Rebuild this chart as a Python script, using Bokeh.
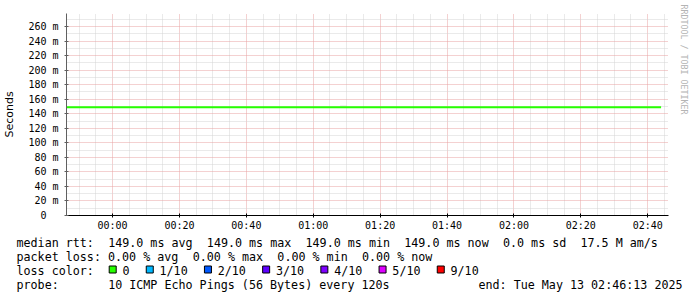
import re
import pandas as pd
from bokeh.plotting import figure
from bokeh.layouts import column
from bokeh.models import Range1d, FixedTicker, ColumnDataSource
from bokeh.embed import file_html
from bokeh.resources import INLINE
from bokeh.core.properties import value

# ---------------- data ----------------
graph_start = "2025-05-12 23:46:13"
graph_end = "2025-05-13 02:46:13"

x_tick_labels = ["00:00", "00:20", "00:40", "01:00", "01:20", "01:40", "02:00", "02:20", "02:40"]
x_tick_day = "2025-05-13"

y_tick_ms = [0, 20, 40, 60, 80, 100, 120, 140, 160, 180, 200, 220, 240, 260]
y_tick_labels = ["0\u00a0\u00a0", "20 m", "40 m", "60 m", "80 m", "100 m", "120 m", "140 m",
                 "160 m", "180 m", "200 m", "220 m", "240 m", "260 m"]
y_minor_ms = [10, 30, 50, 70, 90, 110, 130, 150, 170, 190, 210, 230, 250, 270]

rtt_times = ["2025-05-12 23:46:13", "2025-05-12 23:56:00", "2025-05-13 00:06:00", "2025-05-13 00:16:00",
             "2025-05-13 00:26:00", "2025-05-13 00:36:00", "2025-05-13 00:46:00", "2025-05-13 00:56:00",
             "2025-05-13 01:06:00", "2025-05-13 01:16:00", "2025-05-13 01:26:00", "2025-05-13 01:36:00",
             "2025-05-13 01:46:00", "2025-05-13 01:56:00", "2025-05-13 02:06:00", "2025-05-13 02:16:00",
             "2025-05-13 02:26:00", "2025-05-13 02:36:00", "2025-05-13 02:44:00"]
rtt_median_ms = [149.0, 149.0, 149.0, 149.0, 149.0, 149.0, 149.0, 149.0, 149.0, 149.0,
                 149.0, 149.0, 149.0, 149.0, 149.0, 149.0, 149.0, 149.0, 149.0]

smoke_start = ["2025-05-13 01:08:00"]
smoke_end = ["2025-05-13 01:10:00"]
smoke_lo_ms = [150.4]
smoke_hi_ms = [151.2]

loss_labels = ["0", "1/10", "2/10", "3/10", "4/10", "5/10", "9/10"]
loss_colors = ["#26ff00", "#00b8ff", "#0059ff", "#5e00ff", "#7e00ff", "#dd00ff", "#ff0000"]

legend_rtt = "median rtt:  149.0 ms avg  149.0 ms max  149.0 ms min  149.0 ms now  0.0 ms sd  17.5 M am/s"
legend_loss = "packet loss: 0.00 % avg  0.00 % max  0.00 % min  0.00 % now"
legend_color = "loss color:"
legend_probe = "probe:       10 ICMP Echo Pings (56 Bytes) every 120s"
legend_end = "end: Tue May 13 02:46:13 2025"

# ---------------- helpers ----------------
def ms_epoch(s):
    return pd.Timestamp(s).value // 10**6

t0 = ms_epoch(graph_start)
t1 = ms_epoch(graph_end)
x_ticks = [ms_epoch(x_tick_day + " " + l) for l in x_tick_labels]
x_minor = [int(v.value // 10**6) for v in pd.date_range("2025-05-12 23:50", "2025-05-13 02:45", freq="5min")]
x_minor = [v for v in x_minor if v not in x_ticks]

MONO = "DejaVu Sans Mono"
GRID_MAJOR = "#e9a2a2"
GRID_MINOR = "#d4d4d4"

TOP_H = 237

# ---------------- graph ----------------
p = figure(width=697, height=TOP_H, output_backend="svg", toolbar_location=None,
           x_axis_type="datetime",
           x_range=Range1d(t0, t1), y_range=Range1d(0, 0.278),
           min_border_left=66, min_border_right=29, min_border_top=13, min_border_bottom=22,
           background_fill_color="white", border_fill_color="white", frame_align=False)
p.outline_line_color = None

src = ColumnDataSource(dict(t=pd.to_datetime(rtt_times), y=[v / 1000 for v in rtt_median_ms]))
smoke = ColumnDataSource(dict(l=pd.to_datetime(smoke_start), r=pd.to_datetime(smoke_end),
                              b=[v / 1000 for v in smoke_lo_ms], tp=[v / 1000 for v in smoke_hi_ms]))
p.quad(left="l", right="r", bottom="b", top="tp", source=smoke, fill_color="#c4c4c4", line_color=None)
p.line("t", "y", source=src, line_color="#26ff00", line_width=2)

# axes
p.xaxis.ticker = FixedTicker(ticks=x_ticks, minor_ticks=x_minor)
p.xaxis.major_label_overrides = {t: l for t, l in zip(x_ticks, x_tick_labels)}
p.yaxis.ticker = FixedTicker(ticks=[v / 1000 for v in y_tick_ms], minor_ticks=[v / 1000 for v in y_minor_ms])
p.yaxis.major_label_overrides = {v / 1000: l for v, l in zip(y_tick_ms, y_tick_labels)}

for ax in (p.xaxis, p.yaxis):
    ax.major_label_text_font = MONO
    ax.major_label_text_font_size = "10px"
    ax.major_label_text_color = "#000000"
    ax.minor_tick_line_color = None
    ax.major_tick_out = 2
    ax.major_tick_in = 2
p.xaxis.major_label_standoff = 0
p.yaxis.major_label_standoff = 4
p.xaxis.axis_line_color = "#000000"
p.xaxis.major_tick_line_color = "#000000"
p.yaxis.axis_line_color = "#606060"
p.yaxis.major_tick_line_color = "#606060"
p.yaxis.axis_label = "Seconds"
p.yaxis.axis_label_text_font = "DejaVu Sans"
p.yaxis.axis_label_text_font_size = "11px"
p.yaxis.axis_label_text_font_style = "normal"
p.yaxis.axis_label_text_color = "#000000"
p.yaxis.axis_label_standoff = 9

# grid
for g in (p.xgrid, p.ygrid):
    g.grid_line_color = GRID_MAJOR
    g.grid_line_dash = "1 1"
    g.grid_line_width = 1
    g.minor_grid_line_color = GRID_MINOR
    g.minor_grid_line_dash = "1 1"
    g.minor_grid_line_width = 1

# watermark on the right
p.title.text = "RRDTOOL / TOBI OETIKER"
p.title_location = "right"
p.title.align = "left"
p.title.vertical_align = "top"
p.title.offset = -9
p.title.standoff = 17
p.title.text_font = MONO
p.title.text_font_size = "8.3px"
p.title.text_font_style = "normal"
p.title.text_color = "#b4b4b4"

# ---------------- legend ----------------
lf = figure(width=697, height=297 - TOP_H, output_backend="svg", toolbar_location=None,
            x_range=Range1d(0, 697), y_range=Range1d(297, TOP_H),
            x_axis_location=None, y_axis_location=None, min_border=0,
            background_fill_color="white", border_fill_color="white", frame_align=False)
lf.outline_line_color = None
lf.grid.visible = False

CW = 7.05
X0 = 16.0
BASE = [242.0, 256.0, 270.0, 284.0]
lines = [(legend_rtt, BASE[0]), (legend_loss, BASE[1]), (legend_color, BASE[2]), (legend_probe, BASE[3])]
tx, ty, tt = [], [], []
for s, yb in lines:
    for m in re.finditer(r"\S+(?: \S+)*", s):
        tx.append(X0 + m.start() * CW)
        ty.append(yb)
        tt.append(m.group(0))
tx.append(478.0)
ty.append(BASE[3])
tt.append(legend_end)
lf.text(x=tx, y=ty, text=tt, text_font=value(MONO), text_font_size="11.7px",
        text_baseline="alphabetic", text_align="left", text_color="#000000")

sq_x, lab_x = [], []
cur = 108.7
for lab in loss_labels:
    sq_x.append(cur + 3.5)
    lab_x.append(cur + 13.3)
    cur += 30 + len(lab) * CW
lf.scatter(x=sq_x, y=[269.0] * len(sq_x), marker="square", size=7, fill_color=loss_colors,
           line_color="#000000", line_width=1)
lf.text(x=lab_x, y=[BASE[2]] * len(lab_x), text=loss_labels, text_font=value(MONO), text_font_size="11.7px",
        text_baseline="alphabetic", text_align="left", text_color="#000000")

layout = column(p, lf, spacing=0)
open("out.html", "w").write(file_html(layout, INLINE))
